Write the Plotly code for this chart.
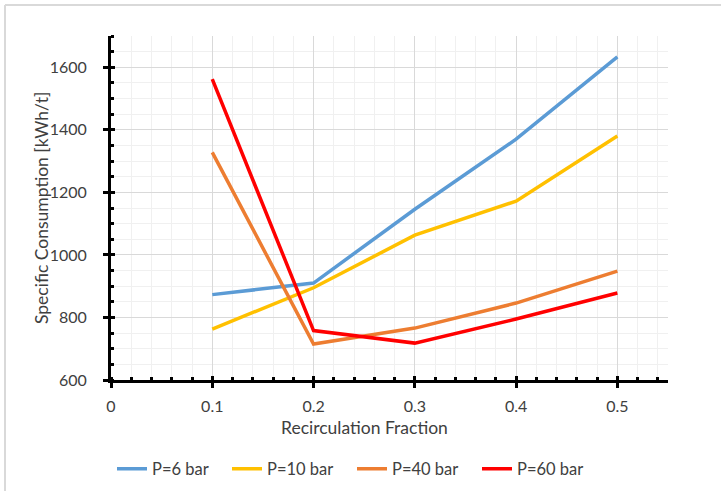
import plotly.graph_objects as go

x_vals = [0.1, 0.2, 0.3, 0.4, 0.5]
p6 = [873, 910, 1146, 1370, 1633]
p10 = [763, 895, 1063, 1172, 1380]
p40 = [1328, 715, 766, 846, 948]
p60 = [1562, 758, 718, 795, 878]

series = [
    ("P=6 bar", p6, "#5B9BD5"),
    ("P=10 bar", p10, "#FFC000"),
    ("P=40 bar", p40, "#ED7D31"),
    ("P=60 bar", p60, "#FF0000"),
]
legend_starts = [118, 233, 358, 483]

FONT = "Lato"
TXT = "#404040"
FS_TICK = 16
FS_TITLE = 17.5
FS_LEG = 16.5

fig = go.Figure()
legend_layout = {}
for i, (name, ys, col) in enumerate(series):
    lg = "legend" if i == 0 else f"legend{i + 1}"
    fig.add_trace(go.Scatter(x=x_vals, y=ys, mode="lines", name=name, legend=lg,
                             line=dict(color=col, width=3.5)))
    legend_layout[lg] = dict(orientation="h", xref="container", yref="container",
                             x=(legend_starts[i] - 6) / 721, y=1 - 469 / 491,
                             xanchor="left", yanchor="middle", bgcolor="rgba(0,0,0,0)",
                             font=dict(family=FONT, size=FS_LEG, color=TXT), itemwidth=30)

# invisible helper trace on overlay axes for inside major ticks
fig.add_trace(go.Scatter(x=[0], y=[600], xaxis="x2", yaxis="y2", mode="markers",
                         marker=dict(opacity=0), showlegend=False, hoverinfo="skip"))

fig.update_layout(
    width=721, height=491,
    margin=dict(l=111, r=53, t=36, b=111),
    paper_bgcolor="white", plot_bgcolor="white",
    font=dict(family=FONT, size=FS_TICK, color=TXT),
    showlegend=True,
    **legend_layout,
    xaxis=dict(range=[0, 0.55], dtick=0.1, tick0=0, showgrid=True,
               gridcolor="#D9D9D9", gridwidth=1.3,
               showline=True, linecolor="black", linewidth=3,
               ticks="outside", ticklen=5, tickwidth=3, tickcolor="black",
               ticklabelstandoff=5, zeroline=False,
               tickfont=dict(family=FONT, size=FS_TICK, color=TXT),
               minor=dict(dtick=0.02, tick0=0, ticks="inside", ticklen=3, tickwidth=3,
                          tickcolor="black", showgrid=True, gridcolor="#F0F0F0", gridwidth=1.3)),
    yaxis=dict(range=[600, 1700], dtick=200, tick0=600, showgrid=True,
               gridcolor="#D9D9D9", gridwidth=1.3,
               showline=True, linecolor="black", linewidth=3,
               ticks="outside", ticklen=5, tickwidth=3, tickcolor="black",
               ticklabelstandoff=13, zeroline=False,
               tickfont=dict(family=FONT, size=FS_TICK, color=TXT),
               minor=dict(dtick=50, tick0=600, ticks="inside", ticklen=3, tickwidth=3,
                          tickcolor="black", showgrid=True, gridcolor="#F0F0F0", gridwidth=1.3)),
    xaxis2=dict(overlaying="x", range=[0, 0.55], dtick=0.1, tick0=0, side="bottom",
                showgrid=False, showline=False, zeroline=False, showticklabels=False,
                ticks="inside", ticklen=4, tickwidth=3, tickcolor="black"),
    yaxis2=dict(overlaying="y", range=[600, 1700], dtick=200, tick0=600, side="left",
                showgrid=False, showline=False, zeroline=False, showticklabels=False,
                ticks="inside", ticklen=4, tickwidth=3, tickcolor="black"),
)

fig.add_annotation(text="Specific Consumption [kWh/t]", xref="paper", yref="paper",
                   x=(41 - 111) / 557, y=0.5, xanchor="center", yanchor="middle",
                   textangle=-90, showarrow=False,
                   font=dict(family=FONT, size=FS_TITLE, color=TXT))
fig.add_annotation(text="Recirculation Fraction", xref="paper", yref="paper",
                   x=(364 - 111) / 557, y=-(427 - 380) / 344, xanchor="center", yanchor="middle",
                   showarrow=False, font=dict(family=FONT, size=FS_TITLE, color=TXT))

# chart-area border (top and left edges visible)
fig.add_shape(type="line", xref="paper", yref="paper",
              x0=(5 - 111) / 557, x1=(721 - 111) / 557, y0=(380 - 5) / 344, y1=(380 - 5) / 344,
              line=dict(color="#D9D9D9", width=2))
fig.add_shape(type="line", xref="paper", yref="paper",
              x0=(5 - 111) / 557, x1=(5 - 111) / 557, y0=(380 - 5) / 344, y1=(380 - 491) / 344,
              line=dict(color="#D9D9D9", width=2))

fig.write_html("out.html")
